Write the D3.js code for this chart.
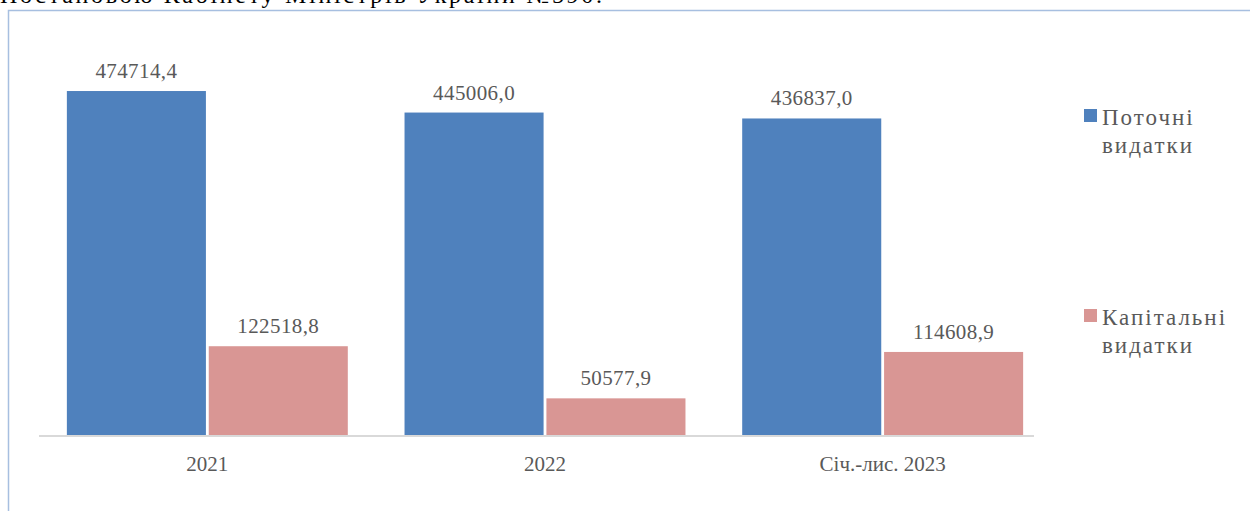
<!DOCTYPE html>
<html lang="uk">
<head>
    <meta charset="UTF-8">
    <title>Видатки</title>
    <script src="https://d3js.org/d3.v7.min.js"></script>
    <style>
        body {
            margin: 0;
            background: #fff;
        }
        svg text {
            font-family: "Liberation Serif", "DejaVu Serif", serif;
        }
        .value-label, .cat-label {
            fill: #595959;
            font-size: 21px;
        }
        .value-label {
            letter-spacing: 0.4px;
        }
        .legend-text {
            fill: #595959;
            font-size: 23px;
            letter-spacing: 2px;
        }
        .page-text {
            fill: #000;
            font-size: 24px;
        }
    </style>
</head>
<body>
    <div id="chart"></div>
    <script>
        const categories = ["2021", "2022", "Січ.-лис. 2023"];
        const seriesNames = ["Поточні видатки", "Капітальні видатки"];
        const currentValues = [474714.4, 445006.0, 436837.0];
        const capitalValues = [122518.8, 50577.9, 114608.9];
        const valueLabels = [["474714,4", "445006,0", "436837,0"], ["122518,8", "50577,9", "114608,9"]];
        const legendLines = [["Поточні", "видатки"], ["Капітальні", "видатки"]];
        const colors = ["#4f81bd", "#d99694"];

        const width = 1250, height = 511;
        const baseY = 435;

        const svg = d3.select("#chart").append("svg")
            .attr("width", width)
            .attr("height", height);

        // cut-off line of document text above the figure
        svg.append("text")
            .attr("class", "page-text")
            .attr("x", 0)
            .attr("y", 3)
            .attr("textLength", 602)
            .text("Постановою Кабінету Міністрів України №590.");

        // frame of the chart area
        svg.append("rect")
            .attr("x", 8.5)
            .attr("y", 10.5)
            .attr("width", 1260)
            .attr("height", 520)
            .attr("fill", "none")
            .attr("stroke", "#a7bfe0")
            .attr("stroke-width", 1.5);

        const x0 = d3.scaleBand()
            .domain(categories)
            .range([38.5, 1051.5])
            .paddingInner(0.168)
            .paddingOuter(0.084);

        const x1 = d3.scaleBand()
            .domain([0, 1])
            .range([0, x0.bandwidth()])
            .paddingInner(0.02);

        const y = d3.scaleLinear()
            .domain([0, 500000])
            .range([baseY, baseY - 362.3]);

        const data = categories.map((c, i) => ({
            cat: c,
            values: [currentValues[i], capitalValues[i]],
            labels: [valueLabels[0][i], valueLabels[1][i]]
        }));

        const groups = svg.append("g")
            .selectAll("g")
            .data(data)
            .join("g")
            .attr("transform", d => `translate(${x0(d.cat)},0)`);

        groups.selectAll("rect")
            .data(d => d.values.map((v, s) => ({ v, s })))
            .join("rect")
            .attr("x", d => x1(d.s))
            .attr("y", d => y(d.v))
            .attr("width", x1.bandwidth())
            .attr("height", d => baseY - y(d.v))
            .attr("fill", d => colors[d.s]);

        groups.selectAll("text")
            .data(d => d.values.map((v, s) => ({ v, s, label: d.labels[s] })))
            .join("text")
            .attr("class", "value-label")
            .attr("x", d => x1(d.s) + x1.bandwidth() / 2)
            .attr("y", d => y(d.v) - 13)
            .attr("text-anchor", "middle")
            .text(d => d.label);

        // category axis
        svg.append("line")
            .attr("x1", 39)
            .attr("x2", 1034)
            .attr("y1", baseY + 1)
            .attr("y2", baseY + 1)
            .attr("stroke", "#d9d9d9")
            .attr("stroke-width", 2);

        svg.append("g")
            .selectAll("text")
            .data(categories)
            .join("text")
            .attr("class", "cat-label")
            .attr("x", d => x0(d) + x0.bandwidth() / 2)
            .attr("y", 471)
            .attr("text-anchor", "middle")
            .text(d => d);

        // legend
        const legendY = [109, 309];
        const legend = svg.append("g")
            .selectAll("g")
            .data(seriesNames)
            .join("g")
            .attr("transform", (d, i) => `translate(1084,${legendY[i]})`);

        legend.append("rect")
            .attr("width", 13)
            .attr("height", 13)
            .attr("fill", (d, i) => colors[i]);

        legend.append("text")
            .attr("class", "legend-text")
            .attr("y", 16)
            .selectAll("tspan")
            .data((d, i) => legendLines[i])
            .join("tspan")
            .attr("x", 18)
            .attr("dy", (d, j) => j === 0 ? 0 : 28)
            .text(d => d);
    </script>
</body>
</html>
